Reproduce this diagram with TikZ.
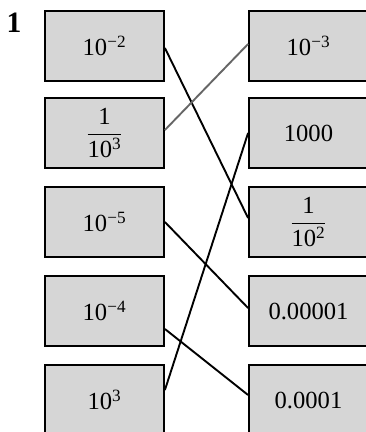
\documentclass[tikz,border=0pt]{standalone}
\usepackage{amsmath}
\usepackage{fontspec}
\setmainfont{Liberation Serif}
\usetikzlibrary{positioning}
\tikzset{
  base/.style={font=\fontsize{17.5}{19}\selectfont, align=center, inner sep=2pt, text=black},
  card/.style={base, rectangle, draw=black, fill=black!16, line width=1.3pt, minimum width=29.75mm, minimum height=17.5mm},
  link/.style={line width=1.35pt, draw=black},
  linkg/.style={link, draw=black!60},
  qnum/.style={font=\fontsize{21}{23}\selectfont\bfseries, inner sep=0pt},
}
\newcommand{\frc}[2]{$\dfrac{\text{#1}}{\text{#2}}$}

\begin{document}
\begin{tikzpicture}[x=0.25mm,y=-0.25mm]
  \useasboundingbox (0,0) rectangle (365,432);
  \node[qnum] (num) at (14,23) {1};
  % left column
  \foreach \i/\y/\t in {1/46/{10\textsuperscript{−2}},2/133/{\frc{1}{10\textsuperscript{3}}},3/222/{10\textsuperscript{−5}},4/311/{10\textsuperscript{−4}},5/400/{10\textsuperscript{3}}}{
    \node[card] (l\i) at (104.5,\y) {\t};
  }
  % right column
  \foreach \i/\y/\t in {1/46/{10\textsuperscript{−3}},2/133/{1000},3/222/{\frc{1}{10\textsuperscript{2}}},4/311/{0.00001},5/400/{0.0001}}{
    \node[card] (r\i) at (308.5,\y) {\t};
  }
  \draw[link] ([yshift=-0.5mm]l1.east) -- ([yshift=1mm]r3.west);
  \draw[linkg] ([yshift=0.75mm]l2.east) -- ([yshift=0.5mm]r1.west);
  \draw[link] (l3.east) -- ([yshift=0.75mm]r4.west);
  \draw[link] ([yshift=-4.5mm]l4.east) -- ([yshift=1.25mm]r5.west);
  \draw[link] ([yshift=2.5mm]l5.east) -- (r2.west);
\end{tikzpicture}
\end{document}
